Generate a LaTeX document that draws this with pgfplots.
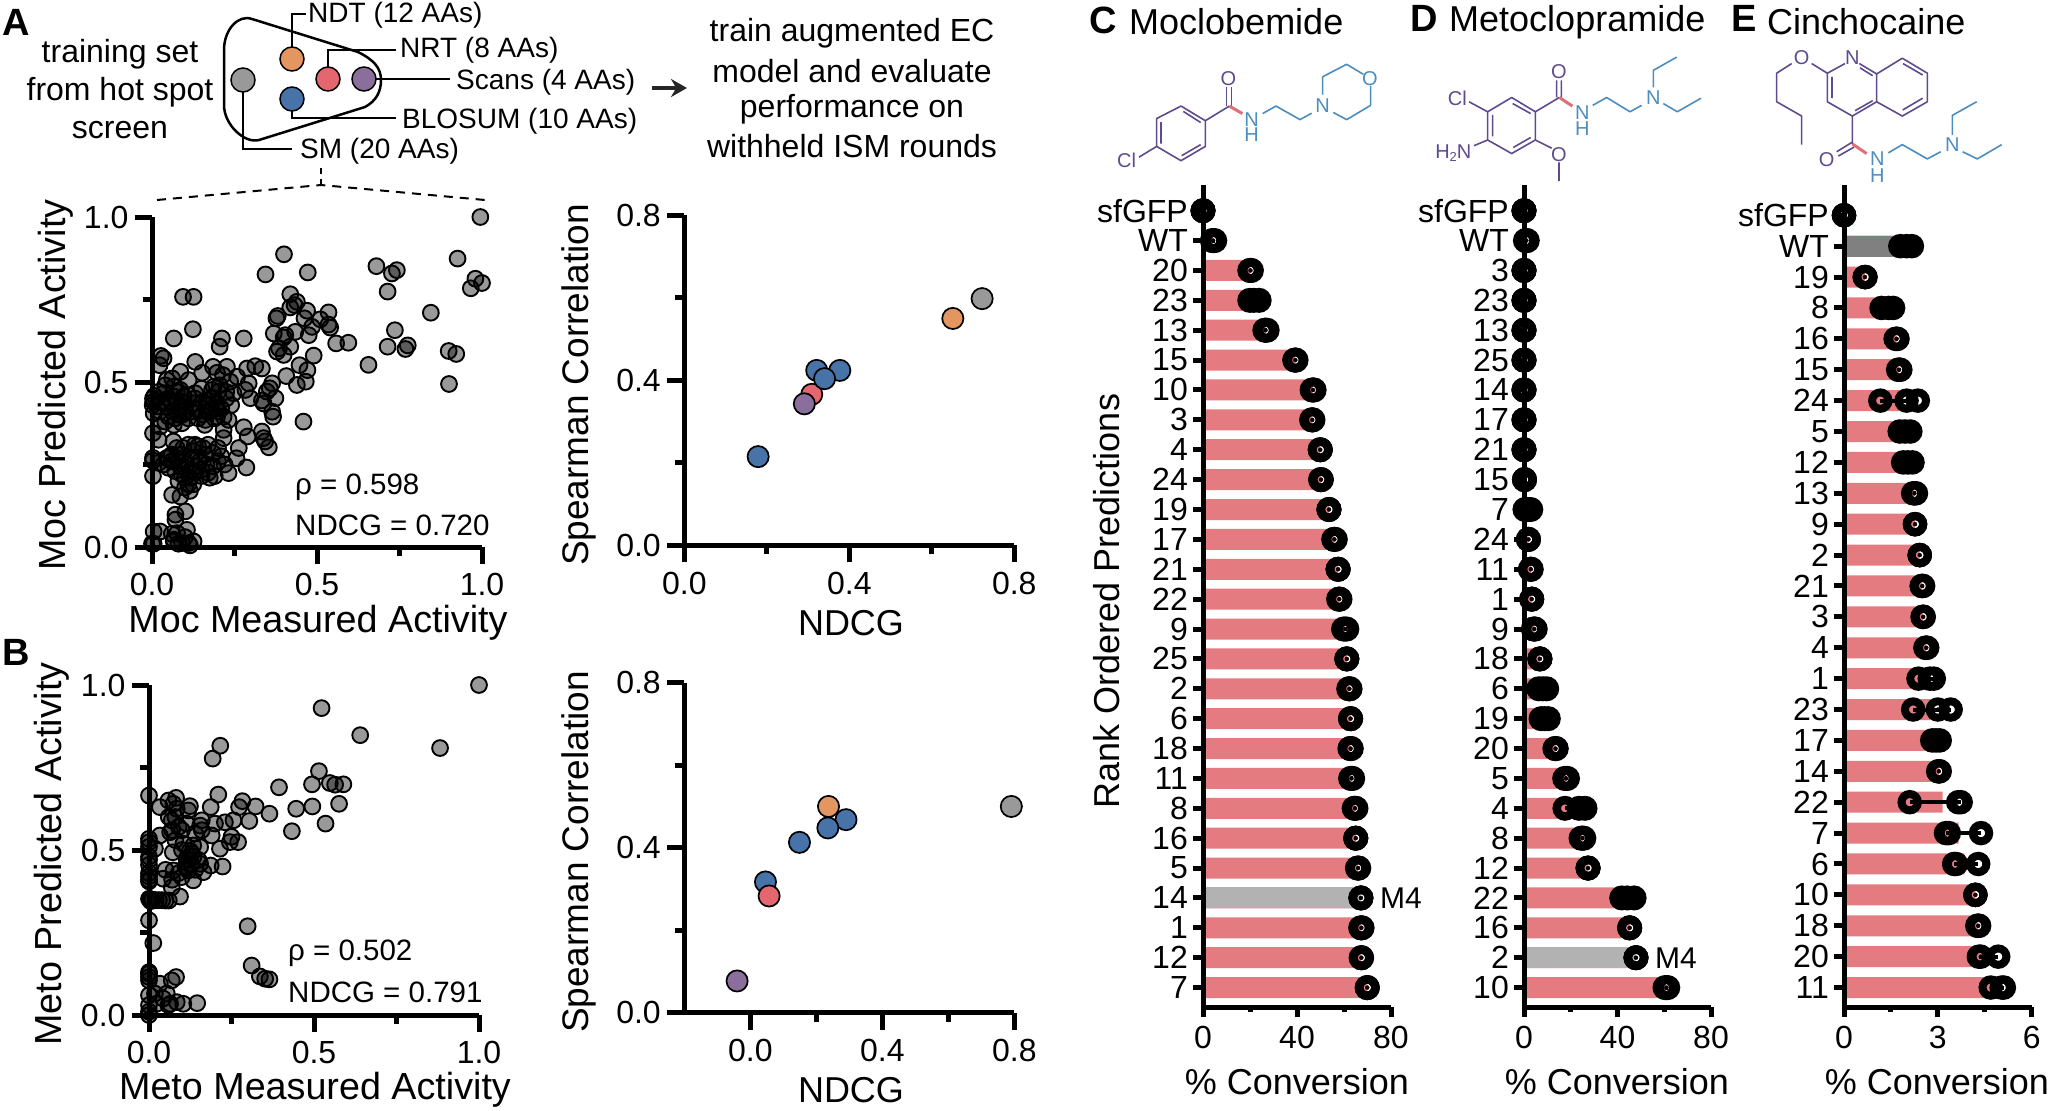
\documentclass[border=0pt]{standalone}
\usepackage{fontspec}
\setmainfont{Liberation Sans}
\usepackage{pgfplots}
\usepackage{pgfplotstable}
\usetikzlibrary{arrows.meta}
\pgfplotsset{compat=1.18}
\newcommand{\fs}[1]{\fontsize{#1}{#1}\selectfont}

\definecolor{barred}{HTML}{E37B80}
\definecolor{dotgray}{HTML}{999999}
\definecolor{dotorange}{HTML}{E3965F}
\definecolor{dotred}{HTML}{E4666F}
\definecolor{dotpurple}{HTML}{8A6E9C}
\definecolor{dotblue}{HTML}{4873A8}
\definecolor{molpurple}{HTML}{5E4B8E}
\definecolor{molblue}{HTML}{4C8DBE}
\definecolor{molred}{HTML}{DF6F76}

\pgfplotsset{
  base/.style={scale only axis, clip=false, axis lines=left, tick align=outside,
    axis line style={line width=5pt,-,black}, tick style={line width=5pt,black},
    anchor=south west},
  scat/.style={base, width=330pt, height=330pt, major tick length=17pt, minor tick length=9pt,
    tick label style={font=\fs{32}},
    xticklabel style={yshift=-6pt}, yticklabel style={xshift=-3pt}},
  gsc/.style={only marks, mark=*, mark size=7.9pt,
    mark options={draw=black, line width=1.9pt, fill=black, fill opacity=.4, draw opacity=1}},
  col/.style={only marks, mark=*, mark size=10.6pt,
    mark options={draw=black, line width=1.7pt, fill=#1}},
  rows/.style={base, width=188pt, height=822pt, major tick length=10pt, minor tick length=5pt,
    tick label style={font=\fs{32}},
    yticklabel style={inner xsep=0pt, xshift=-5pt}, xticklabel style={yshift=-6pt}},
  bars/.style={xbar, bar width=21pt, bar shift=0pt, draw=none, fill=#1},
  reps/.style={only marks, mark=o, mark size=8.2pt, mark options={draw=black, line width=8.5pt}},
  repsE/.style={only marks, mark=o, mark size=8.2pt, mark options={draw=black, line width=8pt}},
  ebars/.style={only marks, mark=none, error bars/.cd, x dir=both, x explicit, error mark=none,
    error bar style={line width=4pt,black}},
}

% panel A scatter
\pgfplotstableread{
x y
.995 1.0
.40 .887
.344 .826
.472 .832
.68 .851
.742 .839
.727 .829
.926 .874
.98 .813
1.0 .80
.966 .784
.714 .774
.845 .71
.736 .657
.714 .607
.775 .611
.768 .60
.899 .594
.922 .585
.90 .494
.656 .552
.595 .619
.558 .617
.459 .38
.094 .758
.126 .758
.124 .66
.066 .632
.212 .632
.205 .607
.278 .632
.419 .766
.439 .743
.432 .733
.419 .726
.47 .716
.535 .711
.381 .70
.377 .693
.462 .693
.51 .69
.535 .674
.54 .665
.485 .667
.434 .652
.369 .647
.404 .642
.399 .635
.475 .642
.419 .607
.385 .602
.379 .592
.399 .582
.49 .58
.447 .551
.471 .536
.407 .518
.466 .501
.439 .491
.364 .496
.357 .481
.348 .471
.374 .451
.333 .444
.338 .435
.364 .41
.367 .395
.333 .35
.338 .33
.343 .32
.354 .302
.278 .363
.29 .335
.263 .30
.256 .269
.286 .241
.232 .224
.027 .579
.035 .572
.023 .551
.086 .531
.131 .561
.185 .546
.227 .546
.288 .541
.313 .548
.333 .541
.152 .528
.197 .528
.215 .521
.258 .516
.293 .496
.045 .506
.061 .511
.111 .506
.187 .486
.237 .501
.283 .476
.247 .466
.298 .451
.131 .466
.066 .486
.086 .476
.007 .458
.036 .466
.045 .436
.015 .426
.025 .411
.005 .405
.066 .456
.076 .436
.096 .456
.101 .426
.061 .411
.081 .401
.126 .436
.136 .416
.152 .401
.182 .416
.187 .451
.182 .476
.197 .436
.202 .411
.217 .395
.232 .385
.162 .385
.091 .375
.066 .37
.025 .365
.003 .345
.02 .325
.217 .355
.217 .33
.197 .395
.05 .395
.11 .39
.14 .39
.17 .41
.19 .39
.21 .42
.16 .37
.08 .42
.04 .38
.06 .44
.09 .40
.12 .41
.03 .44
.155 .44
.18 .45
.175 .43
.2 .47
.15 .48
.11 .46
.075 .47
.04 .49
.225 .45
.24 .43
.205 .49
.225 .47
.003 .45
.002 .43
.004 .44
.02 .47
.05 .45
.09 .44
.13 .45
.165 .43
.195 .42
.07 .39
.1 .41
.003 .27
.003 .262
.035 .25
.02 .255
.06 .26
.075 .30
.06 .28
.05 .24
.07 .23
.085 .245
.09 .22
.1 .21
.11 .19
.115 .17
.125 .19
.13 .225
.135 .245
.12 .27
.125 .29
.14 .305
.16 .28
.165 .25
.17 .225
.15 .215
.175 .21
.19 .215
.185 .245
.2 .26
.185 .285
.17 .31
.2 .30
.21 .275
.22 .25
.105 .25
.09 .28
.08 .2
.1 .24
.115 .21
.145 .26
.155 .3
.095 .3
.065 .32
.11 .31
.13 .31
.045 .27
.075 .27
.14 .27
.15 .235
.12 .23
.08 .26
.05 .27
.003 .215
.1 .18
.061 .158
.086 .153
.101 .108
.071 .098
.071 .083
.005 .047
.025 .047
.106 .052
.076 .042
.066 .022
.066 .017
.091 .012
.111 .012
.126 .017
0 .01
.08 .01
.10 .03
.06 .04
.115 .005
.005 .01
}\moc

% panel B scatter
\pgfplotstableread{
x y
1.0 1.0
.523 .93
.64 .848
.882 .809
.216 .816
.193 .777
.515 .739
.394 .69
.494 .699
.548 .703
.564 .698
.589 .699
.495 .632
.576 .64
.446 .625
.535 .58
.433 .557
0 .665
.21 .668
.283 .648
.273 .63
.323 .632
.365 .61
.304 .588
.187 .63
.082 .658
.059 .65
.033 .63
.074 .64
.124 .633
.119 .62
.084 .625
.256 .59
.23 .584
.2 .58
.16 .59
.155 .574
.114 .58
.069 .59
.064 .554
.033 .544
.19 .544
.16 .56
.25 .54
.27 .524
.245 .524
.215 .504
.223 .45
.187 .453
.165 .433
.155 .509
.134 .514
.104 .519
.124 .498
.072 .493
.018 .504
.114 .473
.129 .458
.155 .458
.119 .438
.134 .408
.099 .418
.074 .438
.043 .413
.069 .387
.094 .359
.1 .5
.08 .53
.07 .56
.1 .56
.14 .55
.06 .6
.08 .6
.09 .57
.13 .49
.15 .47
.11 .45
.09 .43
.05 .44
.07 .41
.12 .47
.135 .48
.115 .445
.14 .44
0 .534
0 .524
0 .51
0 .48
0 .47
0 .455
0 .43
0 .42
0 .41
0 .405
.004 .35
.01 .35
.02 .348
.03 .348
.04 .348
.05 .347
.06 .347
0 .352
.005 .345
0 .287
.013 .218
.299 .269
.311 .15
.336 .117
.352 .11
.365 .108
0 .13
0 .125
0 .115
0 .105
0 .06
0 .03
0 .01
0 0
.082 .115
.069 .105
.033 .095
.054 .065
.018 .065
.064 .034
.104 .034
.146 .036
.084 .039
.023 .034
.059 .03
.043 .05
}\met

% bar panels: y position, bar length, three replicates
\pgfplotstableread{
y m a b c
26 0 0 0 0
25 4.4 4 4.3 5
24 20.2 19.9 20.2 20.6
23 21.8 19.9 21.6 23.9
22 26.8 26.3 26.6 27.3
21 39.3 39 39.3 39.6
20 46.8 46.4 46.8 47.3
19 46.5 46.2 46.5 46.8
18 49.9 49.9 49.9 49.9
17 50.2 50 50.2 50.4
16 53.6 53.6 53.6 53.6
15 55.9 55.6 55.9 56.3
14 57.5 57.5 57.5 57.5
13 58 57.7 58 58.3
12 60.5 59.8 60.5 61.2
11 61.2 61.2 61.2 61.2
10 62.3 62 62.3 62.6
9 62.8 62.8 62.8 62.8
8 62.8 62.5 62.8 63.1
7 63.2 62.8 63.2 63.7
6 64.7 64.3 64.7 65.1
5 65 65 65 65
4 66 65.7 66 66.3
3 67.2 67.2 67.2 67.2
2 67.4 67.1 67.4 67.7
1 67.4 67.3 67.4 67.5
0 69.9 69.9 69.9 69.9
}\tabC

\pgfplotstableread{
y m a b c
26 0 0 0 0
25 1 .6 1 1.4
24 0 0 0 0
23 0 0 0 0
22 0 0 0 0
21 0 0 0 0
20 0 0 0 0
19 0 0 0 0
18 0 0 0 0
17 .2 .2 .2 .2
16 1.6 .4 1.5 2.9
15 1.9 1.9 1.9 1.9
14 2.9 2.7 2.9 3.1
13 3.3 3.3 3.3 3.3
12 4.4 4 4.4 4.8
11 6.8 6.8 6.8 6.8
10 8 6.3 8 9.7
9 8.8 7.3 8.8 10.4
8 13.5 13.2 13.5 13.8
7 18 17.4 18 18.6
6 22.4 17.5 23.5 26.1
5 25 24.4 25 25.6
4 27.4 27.4 27.4 27.4
3 44.4 41.8 44.2 47.1
2 45.2 45.2 45.2 45.2
1 47.9 47.9 47.9 47.9
0 60.9 60.3 60.9 61.5
}\tabD

\pgfplotstableread{
y m a b c
25 0 0 0 0
24 2 1.8 2 2.17
23 .67 .66 .67 .69
22 1.4 1.2 1.43 1.57
21 1.68 1.65 1.68 1.71
20 1.76 1.73 1.76 1.8
19 1.87 1.16 2 2.36
18 1.95 1.78 1.95 2.12
17 2.04 1.89 2.04 2.19
16 2.25 2.21 2.25 2.3
15 2.27 2.27 2.27 2.27
14 2.42 2.42 2.42 2.42
13 2.5 2.48 2.5 2.53
12 2.53 2.51 2.53 2.55
11 2.63 2.6 2.63 2.66
10 2.66 2.38 2.74 2.87
9 2.85 2.21 3 3.41
8 2.94 2.82 2.94 3.06
7 3.03 3.01 3.03 3.06
6 3.15 2.1 3.65 3.73
5 3.66 3.26 3.35 4.38
4 3.85 3.52 3.58 4.29
3 4.2 4.2 4.2 4.2
2 4.29 4.26 4.29 4.32
1 4.55 4.31 4.37 4.93
0 4.9 4.69 5.04 5.11
}\tabE

\begin{document}
\begin{tikzpicture}
\useasboundingbox (0pt,0pt) rectangle (2048pt,-1111pt);

% --- scatter A left
\begin{axis}[scat, at={(152pt,-547pt)}, xmin=0, xmax=1, ymin=0, ymax=1,
  xtick={0,.5,1}, xticklabels={0.0,0.5,1.0}, minor xtick={.25,.75},
  ytick={0,.5,1}, yticklabels={0.0,0.5,1.0}, minor ytick={.25,.75}]
\addplot[gsc] table[x=x,y=y] {\moc};
\end{axis}

% --- scatter B left
\begin{axis}[scat, at={(149pt,-1015pt)}, xmin=0, xmax=1, ymin=0, ymax=1,
  xtick={0,.5,1}, xticklabels={0.0,0.5,1.0}, minor xtick={.25,.75},
  ytick={0,.5,1}, yticklabels={0.0,0.5,1.0}, minor ytick={.25,.75}]
\addplot[gsc] table[x=x,y=y] {\met};
\end{axis}

% --- NDCG vs Spearman, Moc
\begin{axis}[scat, at={(684.3pt,-545.3pt)}, xmin=0, xmax=.8, ymin=0, ymax=.8,
  xtick={0,.4,.8}, xticklabels={0.0,0.4,0.8}, minor xtick={.2,.6},
  ytick={0,.4,.8}, yticklabels={0.0,0.4,0.8}, minor ytick={.2,.6}]
\addplot[col=dotred] coordinates {(.309,.366)};
\addplot[col=dotblue] coordinates {(.321,.424) (.377,.424) (.34,.404) (.179,.215)};
\addplot[col=dotpurple] coordinates {(.291,.343)};
\addplot[col=dotorange] coordinates {(.651,.55)};
\addplot[col=dotgray] coordinates {(.722,.598)};
\end{axis}

% --- NDCG vs Spearman, Meto
\begin{axis}[scat, at={(684.3pt,-1012.7pt)}, xmin=-.2, xmax=.8, ymin=0, ymax=.8,
  xtick={0,.4,.8}, xticklabels={0.0,0.4,0.8}, minor xtick={.2,.6},
  ytick={0,.4,.8}, yticklabels={0.0,0.4,0.8}, minor ytick={.2,.6}]
\addplot[col=dotblue] coordinates {(.29,.468) (.235,.448) (.149,.413) (.046,.317)};
\addplot[col=dotred] coordinates {(.057,.283)};
\addplot[col=dotpurple] coordinates {(-.04,.077)};
\addplot[col=dotorange] coordinates {(.237,.50)};
\addplot[col=dotgray] coordinates {(.791,.50)};
\end{axis}

% --- C
\begin{axis}[rows, at={(1203pt,-1007pt)}, xmin=0, xmax=80, ymin=-.65, ymax=26.86,
  xtick={0,40,80}, xticklabels={0,40,80}, minor xtick={20,60}, ytick={0,1,...,26},
  yticklabels={7,12,1,14,5,16,8,11,18,6,2,25,9,22,21,17,19,24,4,3,10,15,13,23,20,WT,sfGFP}]
\addplot[bars=barred] table[x=m,y=y] {\tabC};
\addplot[bars={black!30}] coordinates {(67.2,3)};
\draw[line width=5pt] (axis cs:0,-.65) -- (axis cs:0,26.86);
\addplot[ebars] table[x=b,y=y,x error plus expr=\thisrow{c}-\thisrow{b},x error minus expr=\thisrow{b}-\thisrow{a}] {\tabC};
\addplot[reps] table[x=a,y=y] {\tabC};
\addplot[reps] table[x=b,y=y] {\tabC};
\addplot[reps] table[x=c,y=y] {\tabC};
\node[anchor=west, inner sep=0pt, font=\fs{30}] at (axis cs:75.3,3) {M4};
\end{axis}

% --- D
\begin{axis}[rows, at={(1524pt,-1007pt)}, width=187pt, xmin=0, xmax=80, ymin=-.65, ymax=26.86,
  xtick={0,40,80}, xticklabels={0,40,80}, minor xtick={20,60}, ytick={0,1,...,26},
  yticklabels={10,2,16,22,12,8,4,5,20,19,6,18,9,1,11,24,7,15,21,17,14,25,13,23,3,WT,sfGFP}]
\addplot[bars=barred] table[x=m,y=y] {\tabD};
\addplot[bars={black!30}] coordinates {(47.9,1)};
\draw[line width=5pt] (axis cs:0,-.65) -- (axis cs:0,26.86);
\addplot[ebars] table[x=b,y=y,x error plus expr=\thisrow{c}-\thisrow{b},x error minus expr=\thisrow{b}-\thisrow{a}] {\tabD};
\addplot[reps] table[x=a,y=y] {\tabD};
\addplot[reps] table[x=b,y=y] {\tabD};
\addplot[reps] table[x=c,y=y] {\tabD};
\node[anchor=west, inner sep=0pt, font=\fs{30}] at (axis cs:56,1) {M4};
\end{axis}

% --- E
\begin{axis}[rows, at={(1844pt,-1007pt)}, width=187.7pt, xmin=0, xmax=6, ymin=-.63, ymax=25.98,
  xtick={0,3,6}, xticklabels={0,3,6}, minor xtick={1.5,4.5}, ytick={0,1,...,25},
  yticklabels={11,20,18,10,6,7,22,14,17,23,1,4,3,21,2,9,13,12,5,24,15,16,8,19,WT,sfGFP}]
\addplot[bars=barred] table[x=m,y=y] {\tabE};
\addplot[bars={black!50}] coordinates {(2,24)};
\draw[line width=5pt] (axis cs:0,-.63) -- (axis cs:0,25.98);
\addplot[ebars] table[x=b,y=y,x error plus expr=\thisrow{c}-\thisrow{b},x error minus expr=\thisrow{b}-\thisrow{a}] {\tabE};
\addplot[repsE] table[x=a,y=y] {\tabE};
\addplot[repsE] table[x=b,y=y] {\tabE};
\addplot[repsE] table[x=c,y=y] {\tabE};
\end{axis}

% --- all free text and the schematic, in image pixels
\begin{scope}[x=1pt,y=-1pt]
\node[font=\fs{38}\bfseries] at (16,22) {A};
\node[font=\fs{38}\bfseries] at (16,652) {B};
\node[font=\fs{38}\bfseries] at (1103,20) {C};
\node[font=\fs{38}\bfseries] at (1424,18) {D};
\node[font=\fs{38}\bfseries] at (1744,18) {E};
\node[anchor=west,inner sep=0pt,font=\fs{36}] at (1129,22) {Moclobemide};
\node[anchor=west,inner sep=0pt,font=\fs{36}] at (1449,22) {Metoclopramide};
\node[anchor=west,inner sep=0pt,font=\fs{36}] at (1767,22) {Cinchocaine};

\node[font=\fs{37.7}] at (318,623) {Moc Measured Activity};
\node[font=\fs{37.7}] at (315,1090) {Meto Measured Activity};
\node[font=\fs{37.7},rotate=90] at (56,385) {Moc Predicted Activity};
\node[font=\fs{37.7},rotate=90] at (52,854) {Meto Predicted Activity};
\node[font=\fs{37},rotate=90] at (579,385) {Spearman Correlation};
\node[font=\fs{37},rotate=90] at (579,852) {Spearman Correlation};
\node[font=\fs{36}] at (851,623) {NDCG};
\node[font=\fs{36}] at (851,1090) {NDCG};
\node[font=\fs{36},rotate=90] at (1107,601) {Rank Ordered Predictions};
\node[font=\fs{36}] at (1297,1082) {\% Conversion};
\node[font=\fs{36}] at (1617,1082) {\% Conversion};
\node[font=\fs{36}] at (1937,1082) {\% Conversion};

\node[anchor=west,inner sep=0pt,font=\fs{29.5}] at (295,487) {ρ = 0.598};
\node[anchor=west,inner sep=0pt,font=\fs{29.5}] at (295,525) {NDCG = 0.720};
\node[anchor=west,inner sep=0pt,font=\fs{29.5}] at (288,953) {ρ = 0.502};
\node[anchor=west,inner sep=0pt,font=\fs{29.5}] at (288,992) {NDCG = 0.791};

% training set schematic
\foreach \t/\yy in {training set/54,from hot spot/92,screen/130}
  \node[font=\fs{32}] at (120,\yy) {\t};
\foreach \t/\yy in {train augmented EC/33,model and evaluate/71,performance on/109,withheld ISM rounds/146}
  \node[font=\fs{32}] at (852,\yy) {\t};
\draw[line width=2.5pt,line join=round] (252,19) -- (358,52)
  .. controls (374,60) and (381,68) .. (381,80)
  .. controls (381,92) and (376,101) .. (365,107) -- (259,140)
  .. controls (245,144) and (224,125) .. (224,105) -- (224,50)
  .. controls (224,30) and (238,14) .. (252,19);
\draw[line width=2.5pt] (292,47) -- (292,14) -- (306,14);
\draw[line width=2.5pt] (328,68) -- (328,50) -- (396,50);
\draw[line width=2.5pt] (376,79) -- (450,79);
\draw[line width=2.5pt] (292,110) -- (292,118) -- (396,118);
\draw[line width=2.5pt] (243,91) -- (243,149) -- (292,149);
\foreach \cc/\px/\py in {dotgray/243/80,dotorange/292/59,dotred/328/79,dotpurple/364/79,dotblue/292/99}
  \draw[line width=1.5pt,fill=\cc] (\px,\py) circle[radius=12];
\node[anchor=west,inner sep=0pt,font=\fs{28}] at (308,15) {NDT (12 AAs)};
\node[anchor=west,inner sep=0pt,font=\fs{28}] at (400,50) {NRT (8 AAs)};
\node[anchor=west,inner sep=0pt,font=\fs{28}] at (456,82) {Scans (4 AAs)};
\node[anchor=west,inner sep=0pt,font=\fs{28}] at (402,121) {BLOSUM (10 AAs)};
\node[anchor=west,inner sep=0pt,font=\fs{28}] at (300,151) {SM (20 AAs)};
\draw[line width=2pt,dash pattern=on 6pt off 5pt] (321,168) -- (321,185);
\draw[line width=2pt,dash pattern=on 9pt off 7pt] (157,200) -- (321,185) -- (485,200);
\draw[line width=3.5pt,-{Stealth[length=16pt,width=18pt]},black!85] (652,88) -- (687,88);
\end{scope}

% --- moclobemide
\begin{scope}[shift={(1070pt,0pt)},x=.3333pt,y=-.3571pt,line width=1.6pt,line join=round]
\begin{scope}[draw=molpurple]
\draw (333,297) -- (406,338) -- (406,410) -- (333,450) -- (260,410) -- (260,332) -- cycle;
\draw (340,312) -- (392,343) (273,342) -- (273,402) (335,436) -- (392,405);
\draw (260,410) -- (207,440) (406,338) -- (478,297);
\draw (470,297) -- (470,245) (484,297) -- (484,245);
\end{scope}
\node[text=molpurple,font=\fs{20}] at (170,450) {Cl};
\node[text=molpurple,font=\fs{20}] at (475,220) {O};
\draw[molred,line width=3pt] (478,297) -- (517,318);
\begin{scope}[draw=molblue]
\draw (578,318) -- (618,297) -- (690,335) -- (725,317);
\draw (758,265) -- (758,215) -- (830,180) -- (880,208);
\draw (902,240) -- (902,295) -- (830,335) -- (790,315);
\end{scope}
\foreach \t/\px/\py in {N/545/335,H/545/378,N/758/297,O/900/220}
  \node[text=molblue,font=\fs{20}] at (\px,\py) {\t};
\end{scope}

% --- metoclopramide
\begin{scope}[shift={(1400pt,0pt)},x=.3333pt,y=-.3571pt,line width=1.6pt,line join=round]
\begin{scope}[draw=molpurple]
\draw (335,273) -- (406,313) -- (406,392) -- (335,430) -- (263,392) -- (263,313) -- cycle;
\draw (338,290) -- (392,318) (278,322) -- (278,382) (340,413) -- (392,385);
\draw (207,285) -- (263,313) (222,408) -- (263,392) (406,392) -- (455,415) (477,455) -- (477,507);
\draw (406,313) -- (478,273) (470,273) -- (470,225) (484,273) -- (484,225);
\end{scope}
\node[text=molpurple,font=\fs{20}] at (172,275) {Cl};
\node[text=molpurple,font=\fs{20}] at (160,430) {H\raisebox{-3pt}{\fs{13}2}N};
\node[text=molpurple,font=\fs{20}] at (477,433) {O};
\node[text=molpurple,font=\fs{20}] at (477,200) {O};
\draw[molred,line width=3pt] (478,273) -- (517,297);
\begin{scope}[draw=molblue]
\draw (578,295) -- (620,273) -- (690,313) -- (725,295);
\draw (760,245) -- (760,197) -- (830,160);
\draw (790,290) -- (832,313) -- (903,275);
\end{scope}
\foreach \t/\px/\py in {N/547/315,H/547/360,N/760/273}
  \node[text=molblue,font=\fs{20}] at (\px,\py) {\t};
\end{scope}

% --- cinchocaine
\begin{scope}[shift={(1720pt,0pt)},x=.3333pt,y=-.3571pt,line width=1.6pt,line join=round]
\begin{scope}[draw=molpurple]
\draw (215,178) -- (170,205) -- (170,285) -- (245,325) -- (245,405);
\draw (275,178) -- (322,205) -- (375,178) (418,178) -- (470,207) -- (470,285) -- (397,325) -- (322,285) -- (322,205);
\draw (336,215) -- (336,275) (420,190) -- (458,212) (405,310) -- (458,282);
\draw (470,207) -- (547,163) -- (622,205) -- (622,285) -- (547,325) -- (470,285);
\draw (549,178) -- (608,210) (548,308) -- (608,275);
\draw (397,325) -- (397,403) (397,398) -- (350,425) (402,412) -- (355,437);
\end{scope}
\foreach \t/\px/\py in {O/245/162,N/397/162,O/320/447}
  \node[text=molpurple,font=\fs{20}] at (\px,\py) {\t};
\draw[molred,line width=3pt] (397,403) -- (440,430);
\begin{scope}[draw=molblue]
\draw (505,428) -- (547,405) -- (622,445) -- (662,425);
\draw (697,378) -- (697,323) -- (770,285);
\draw (728,425) -- (772,445) -- (845,405);
\end{scope}
\foreach \t/\px/\py in {N/472/445,H/472/492,N/697/405}
  \node[text=molblue,font=\fs{20}] at (\px,\py) {\t};
\end{scope}
\end{tikzpicture}
\end{document}
